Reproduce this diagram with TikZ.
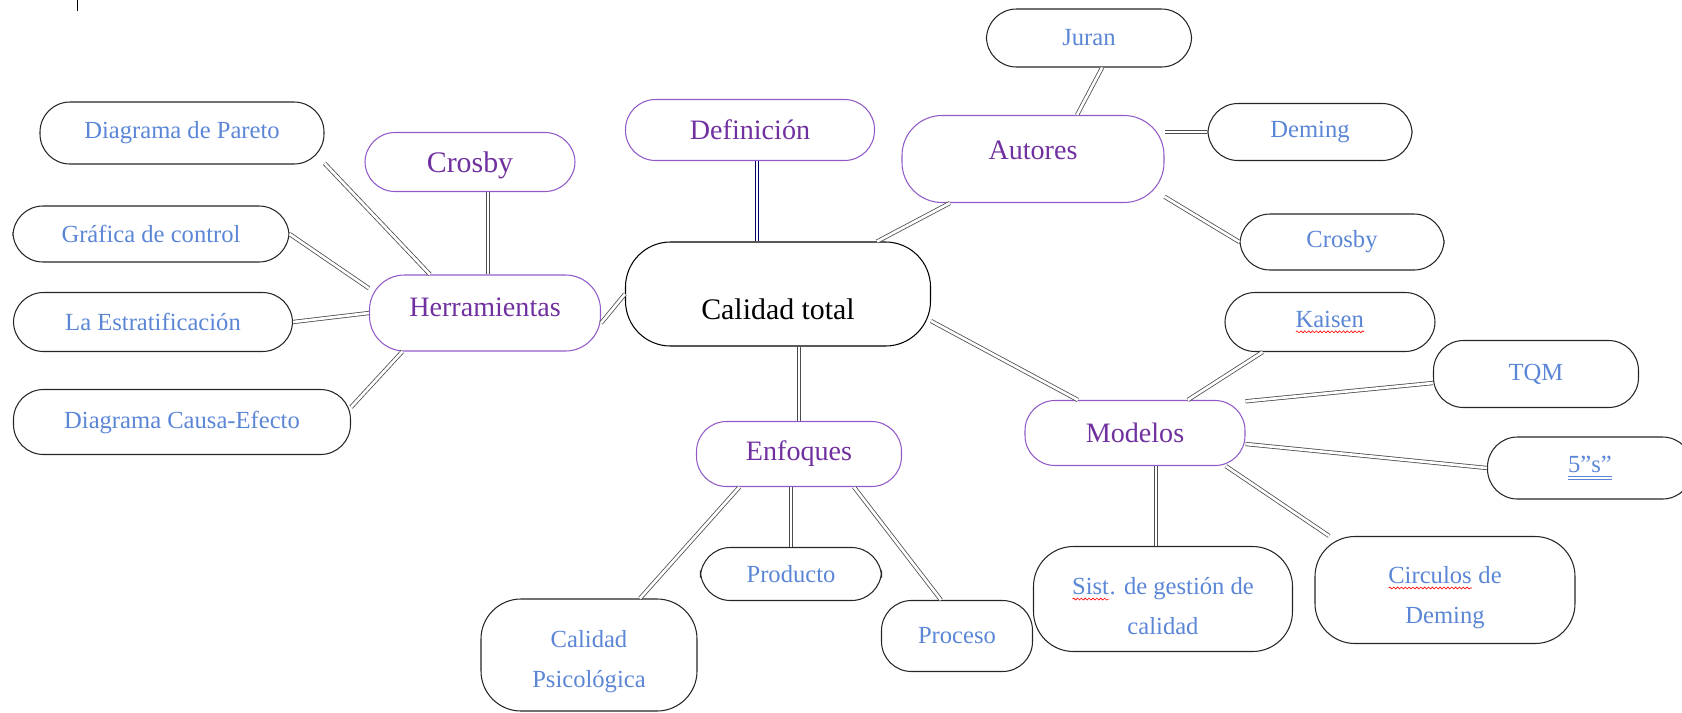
\documentclass[tikz,border=0pt]{standalone}
\usepackage{tikz}
\usetikzlibrary{decorations.pathmorphing}
\usepackage{fontspec}
\setmainfont{Liberation Serif}
\definecolor{azul}{RGB}{91,134,214}
\definecolor{morado}{RGB}{112,48,160}
\definecolor{lila}{RGB}{146,90,200}
\newlength\ondaancho
\newcommand\ondaroja[1]{\setbox0=\hbox{#1}\setlength\ondaancho{\wd0}\leavevmode\rlap{\copy0}\tikz[baseline=0pt]\draw[red,sharp corners,line width=0.35pt,decorate,decoration={snake,amplitude=0.55pt,segment length=2.2pt}] (0pt,-2.6pt) -- (\ondaancho,-2.6pt);}
\newcommand\dobleraya[1]{\setbox0=\hbox{#1}\leavevmode\rlap{\copy0}\rlap{\rule[-2.5pt]{\wd0}{0.5pt}}\rule[-4pt]{\wd0}{0.5pt}}

\begin{document}
\begin{tikzpicture}[x=0.2mm,y=-0.2mm,
    hoja/.style={draw=black!85,line width=0.6pt,rounded corners=6mm,text=azul,inner sep=0pt,align=center,font=\fontsize{14}{23}\selectfont},
    rama/.style={draw=lila,line width=0.6pt,rounded corners=6mm,text=morado,inner sep=0pt,font=\fontsize{16}{20}\selectfont},
    enlace/.style={draw=black!70,line width=0.45pt,double=white,double distance=1.5pt}]

      \useasboundingbox (0,0) rectangle (1682,712);
      \draw[line width=0.5pt] (77,0) -- (77,11);

      \path (778,294) node [draw,line width=0.6pt,rounded corners=9mm,inner sep=0pt,minimum width=61mm,minimum height=20.8mm,font=\fontsize{17}{20}\selectfont](calidad){\raisebox{-8.5pt}[\height][\depth]{Calidad total}};
      \path (750,130) node [rama,minimum width=49.8mm,minimum height=12.2mm](definicion){Definición};

      % herramientas
      \path (485,313) node [rama,minimum width=46.2mm,minimum height=15.2mm,rounded corners=7mm](herramientas){\raisebox{3pt}[\height][\depth]{Herramientas}};
      \path (470,162) node [rama,minimum width=42mm,minimum height=11.8mm,font=\fontsize{17}{20}\selectfont](crosby_h){\raisebox{-2pt}[\height][\depth]{Crosby}};
      \path (182,133) node [hoja,minimum width=56.8mm,minimum height=12.4mm](pareto){Diagrama de Pareto};
      \path (151,234) node [hoja,minimum width=55.2mm,minimum height=11.2mm](grafica){Gráfica de control};
      \path (153,322) node [hoja,minimum width=55.8mm,minimum height=11.8mm](estrat){La Estratificación};
      \path (182,422) node [hoja,minimum width=67.4mm,minimum height=13mm](causa){Diagrama Causa-Efecto};

      % autores
      \path (1033,159) node [rama,minimum width=52.4mm,minimum height=17.4mm,rounded corners=8mm](autores){\raisebox{5pt}[\height][\depth]{Autores}};
      \path (1089,38) node [hoja,minimum width=41mm,minimum height=11.6mm](juran){Juran};
      \path (1310,132) node [hoja,minimum width=40.8mm,minimum height=11.4mm](deming){Deming};
      \path (1342,242) node [hoja,minimum width=40.8mm,minimum height=11.2mm](crosby_a){Crosby};

      % modelos
      \path (1135,433) node [rama,minimum width=44mm,minimum height=13mm](modelos){Modelos};
      \path (1330,322) node [hoja,minimum width=42mm,minimum height=11.8mm](kaisen){\ondaroja{Kaisen}};
      \path (1536,374) node [hoja,minimum width=41mm,minimum height=13.4mm](tqm){TQM};
      \path (1590,468) node [hoja,minimum width=41mm,minimum height=12.4mm](cinco_s){\dobleraya{5”s”}};
      \path (1163,599) node [hoja,minimum width=51.8mm,minimum height=21mm,rounded corners=8mm](sist){\rule{0pt}{18pt}\ondaroja{Sist}. de gestión de\\calidad};
      \path (1445,590) node [hoja,minimum width=52mm,minimum height=21.4mm,rounded corners=8mm](circulos){\rule{0pt}{18.5pt}\ondaroja{Circulos} de\\Deming};

      % enfoques
      \path (799,454) node [rama,minimum width=41mm,minimum height=13mm](enfoques){Enfoques};
      \path (791,574) node [hoja,minimum width=36.2mm,minimum height=10.6mm](producto){Producto};
      \path (957,636) node [hoja,minimum width=30.2mm,minimum height=14.2mm](proceso){Proceso};
      \path (589,655) node [hoja,minimum width=43.2mm,minimum height=22.4mm,rounded corners=8mm](psico){\rule{0pt}{17pt}Calidad\\Psicológica};

      \draw[enlace] (pareto.-12) -- (herramientas.145);
      \draw[enlace] (grafica.east) -- (herramientas.168);
      \draw[enlace] (estrat.east) -- (herramientas.west);
      \draw[enlace] (causa.5) -- (herramientas.205);
      \draw[enlace] ([xshift=0.6mm]crosby_h.south -| herramientas) -- ([xshift=0.6mm]herramientas.north);
      \draw[enlace] (herramientas.-5) -- (calidad.west);
      \draw[enlace,draw=blue!40!black] ([xshift=1.4mm]definicion.south) -- ([xshift=1.4mm]definicion.south |- calidad.north);
      \draw[enlace] (calidad) -- (autores);
      \draw[enlace] (juran.-66) -- (autores.45);
      \draw[enlace] (deming.west) -- (deming.west -| autores.east);
      \draw[enlace] (autores.-16) -- (crosby_a.west);
      \draw[enlace] (calidad.-10) -- (modelos.150);
      \draw[enlace] (modelos.32) -- (kaisen.204);
      \draw[enlace] (modelos.16) -- (tqm.185);
      \draw[enlace] (modelos) -- (cinco_s.west);
      \draw[enlace] ([xshift=-1.4mm]sist.north) -- ([xshift=-1.4mm]sist.north |- modelos.south);
      \draw[enlace] (modelos.-20) -- (circulos.155);
      \draw[enlace] (enfoques.north) -- (enfoques.north |- calidad.south);
      \draw[enlace] (enfoques.209) -- (psico.48);
      \draw[enlace] (producto.north) -- (producto.north |- enfoques.south);
      \draw[enlace] (enfoques.-31) -- (proceso.114);

    \end{tikzpicture}
\end{document}
